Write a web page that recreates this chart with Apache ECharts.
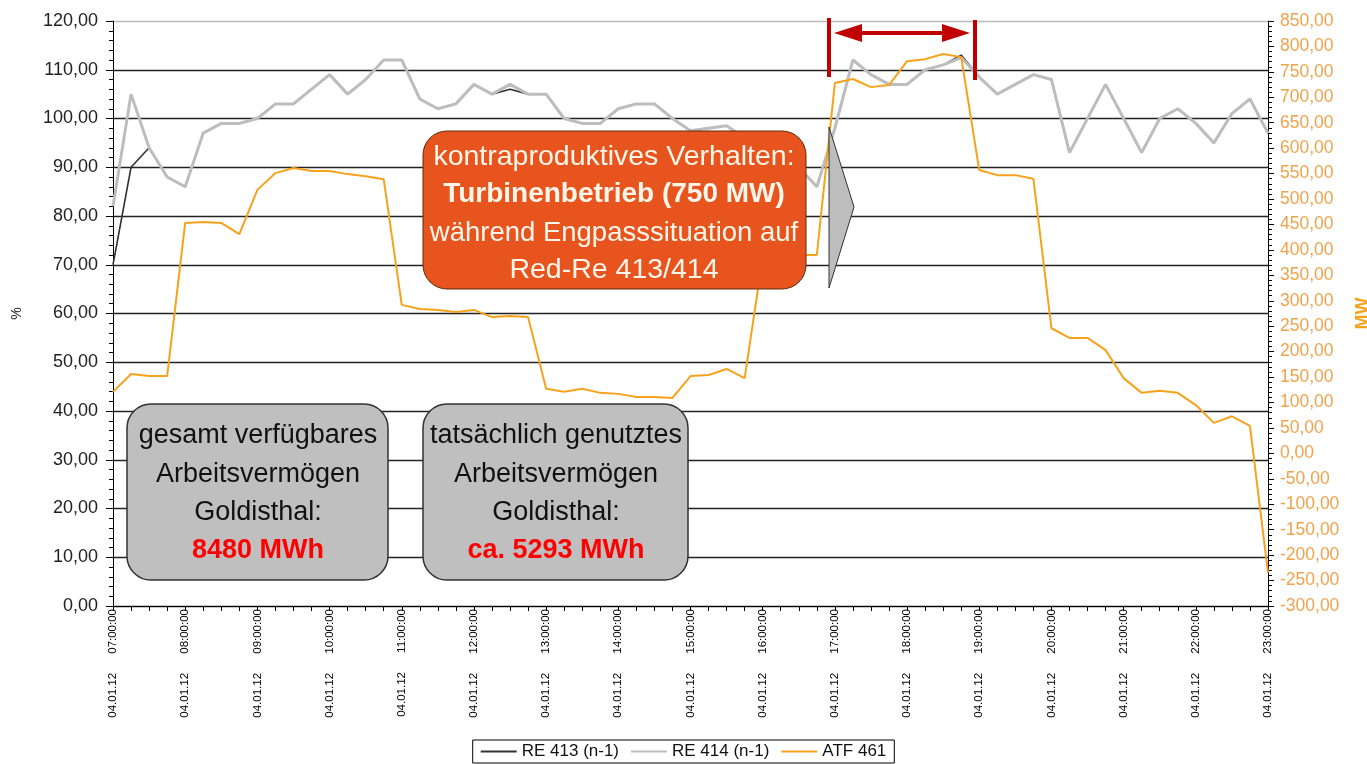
<!DOCTYPE html>
<html>
<head>
<meta charset="utf-8">
<script src="https://cdn.jsdelivr.net/npm/echarts@6/dist/echarts.min.js"></script>
<style>
  html, body { margin: 0; padding: 0; background: #fff; }
  #chart { width: 1367px; height: 764px; }
</style>
</head>
<body>
<div id="chart"></div>
<script>
// 15-minute steps, 04.01.12 07:00 - 23:00
const times = [];
for (let h = 7; h <= 23; h++) {
  for (let q = 0; q < 60; q += 15) {
    if (h === 23 && q > 0) break;
    times.push('04.01.12 ' + String(h).padStart(2, '0') + ':' + String(q).padStart(2, '0') + ':00');
  }
}

const re413 = [70, 90, 94, 88, 86, 97, 99, 99, 100, 103, 103, 106, 109, 105, 108, 112, 112,
  104, 102, 103, 107, 105, 106, 105, 105, 100, 99, 99, 102, 103, 103, 100, 97.5,
  98, 98.5, 96, 94, 92, 90, 86, 98, 112, 109, 107, 107, 110, 111, 113,
  108.5, 105, 107, 109, 108, 93, 100, 107, 100, 93, 100, 102, 99, 95, 101, 104, 97];

const re414 = [82, 105, 94, 88, 86, 97, 99, 99, 100, 103, 103, 106, 109, 105, 108, 112, 112,
  104, 102, 103, 107, 105, 107, 105, 105, 100, 99, 99, 102, 103, 103, 100, 97.5,
  98, 98.5, 96, 94, 92, 90, 86, 98, 112, 109, 107, 107, 110, 111, 112.5,
  108.5, 105, 107, 109, 108, 93, 100, 107, 100, 93, 100, 102, 99, 95, 101, 104, 97];

const atf461 = [121, 156, 152, 152, 453, 455, 453, 431, 518, 551, 561, 555, 555, 549, 545, 539, 292,
  284, 282, 278, 282, 268, 270, 268, 127, 121, 127, 119, 117, 111, 111, 109, 152,
  154, 166, 148, 385, 390, 390, 390, 728, 736, 720, 724, 771, 775, 785, 779,
  557, 547, 547, 540, 246, 227, 227, 203, 148, 119, 123, 119, 95, 60, 73, 54, -235];

const fmt = v => v.toFixed(2).replace('.', ',');
const FONT = '"Liberation Sans", Arial, sans-serif';
const ORANGE = '#F7A21C';

const chart = echarts.init(document.getElementById('chart'));

const boxText = (x, y, text, opts) => ({
  type: 'text', x: x, y: y, z: 102,
  style: Object.assign({
    text: text, fontFamily: FONT, fontSize: 27, fill: '#111',
    textAlign: 'center', textVerticalAlign: 'middle'
  }, opts || {})
});

const option = {
  backgroundColor: '#fff',
  animation: false,
  textStyle: { fontFamily: FONT },
  grid: { left: 113, right: 99, top: 21, bottom: 158, outerBoundsMode: 'none', containLabel: false },
  legend: {
    data: ['RE 413 (n-1)', 'RE 414 (n-1)', 'ATF 461'],
    left: 'center', top: 740,
    icon: 'rect', itemWidth: 36, itemHeight: 2, itemGap: 12,
    padding: [3, 8], borderColor: '#000', borderWidth: 1,
    textStyle: { fontSize: 17, color: '#111', fontFamily: FONT }
  },
  xAxis: {
    type: 'category',
    data: times,
    boundaryGap: false,
    axisLine: { lineStyle: { color: '#000', width: 1 } },
    axisTick: { interval: 0, length: 5, lineStyle: { color: '#000' } },
    axisLabel: {
      interval: 3, rotate: 90, margin: 3,
      fontSize: 11.5, color: '#000', fontFamily: FONT,
      formatter: v => v.replace(' ', '      ')
    },
    splitLine: { show: false }
  },
  yAxis: [
    {
      type: 'value', min: 0, max: 120, interval: 10,
      name: '%', nameLocation: 'middle', nameGap: 89, nameRotate: 90,
      nameTextStyle: { fontSize: 14, color: '#222' },
      axisLine: { show: true, lineStyle: { color: '#000' } },
      axisTick: { show: true, length: 7, lineStyle: { color: '#000' } },
      minorTick: { show: true, splitNumber: 5, length: 4, lineStyle: { color: '#000' } },
      axisLabel: { fontSize: 18, color: '#222', margin: 15, formatter: fmt },
      splitLine: {
        show: true,
        lineStyle: {
          color: ['#222', '#222', '#222', '#222', '#222', '#222', '#222', '#222', '#222', '#222', '#222', '#222', '#bbb'],
          width: 1.3
        }
      }
    },
    {
      type: 'value', min: -300, max: 850, interval: 50,
      name: 'MW', nameLocation: 'middle', nameGap: 86, nameRotate: 90,
      nameTextStyle: { fontSize: 18, color: ORANGE, fontWeight: 'bold' },
      axisLine: { show: true, lineStyle: { color: '#000' } },
      axisTick: { show: true, length: 6, lineStyle: { color: '#000' } },
      minorTick: { show: true, splitNumber: 5, length: 4, lineStyle: { color: '#000' } },
      axisLabel: { fontSize: 17.5, color: '#F2A24A', margin: 12, formatter: fmt },
      splitLine: { show: false }
    }
  ],
  series: [
    {
      name: 'RE 413 (n-1)', type: 'line', data: re413, yAxisIndex: 0,
      symbol: 'none', lineStyle: { color: '#333', width: 1.6 }, itemStyle: { color: '#333' }, z: 2
    },
    {
      name: 'RE 414 (n-1)', type: 'line', data: re414, yAxisIndex: 0,
      symbol: 'none', lineStyle: { color: '#BDBDBD', width: 3 }, itemStyle: { color: '#BDBDBD' }, z: 3
    },
    {
      name: 'ATF 461', type: 'line', data: atf461, yAxisIndex: 1,
      symbol: 'none', lineStyle: { color: ORANGE, width: 2 }, itemStyle: { color: ORANGE }, z: 4
    }
  ],
  graphic: [
    // orange callout
    { type: 'rect', z: 100, shape: { x: 423, y: 131, width: 383, height: 158, r: 24 },
      style: { fill: '#E8541E', stroke: '#5a2a10', lineWidth: 1 } },
    boxText(614, 157, 'kontraproduktives Verhalten:', { fill: '#FFF6EA', fontSize: 28.5 }),
    boxText(614, 194, 'Turbinenbetrieb (750 MW)', { fill: '#FFF6EA', fontSize: 28, fontWeight: 'bold' }),
    boxText(614, 233, 'während Engpasssituation auf', { fill: '#FFF6EA', fontSize: 27.5 }),
    boxText(614, 270, 'Red-Re 413/414', { fill: '#FFF6EA', fontSize: 28.5 }),
    // gray pointer
    { type: 'polygon', z: 100, shape: { points: [[829, 127], [854, 207], [829, 288]] },
      style: { fill: '#BDBDBD', stroke: '#333', lineWidth: 1 } },
    // gray boxes
    { type: 'rect', z: 100, shape: { x: 127, y: 404, width: 261, height: 176, r: 24 },
      style: { fill: '#BFBFBF', stroke: '#333', lineWidth: 1.5 } },
    boxText(258, 436, 'gesamt verfügbares'),
    boxText(258, 475, 'Arbeitsvermögen'),
    boxText(258, 513, 'Goldisthal:'),
    boxText(258, 551, '8480 MWh', { fill: '#FF0000', fontWeight: 'bold' }),
    { type: 'rect', z: 100, shape: { x: 423, y: 404, width: 265, height: 176, r: 24 },
      style: { fill: '#BFBFBF', stroke: '#333', lineWidth: 1.5 } },
    boxText(556, 436, 'tatsächlich genutztes'),
    boxText(556, 475, 'Arbeitsvermögen'),
    boxText(556, 513, 'Goldisthal:'),
    boxText(556, 551, 'ca. 5293 MWh', { fill: '#FF0000', fontWeight: 'bold' }),
    // red double arrow
    { type: 'line', z: 100, shape: { x1: 829, y1: 18, x2: 829, y2: 77 }, style: { stroke: '#C00000', lineWidth: 4 } },
    { type: 'line', z: 100, shape: { x1: 975, y1: 20, x2: 975, y2: 80 }, style: { stroke: '#C00000', lineWidth: 4 } },
    { type: 'line', z: 100, shape: { x1: 850, y1: 33, x2: 955, y2: 33 }, style: { stroke: '#C00000', lineWidth: 4 } },
    { type: 'polygon', z: 100, shape: { points: [[834, 33], [862, 24], [862, 42]] }, style: { fill: '#C00000' } },
    { type: 'polygon', z: 100, shape: { points: [[970, 33], [942, 24], [942, 42]] }, style: { fill: '#C00000' } }
  ]
};

chart.setOption(option);
</script>
</body>
</html>
